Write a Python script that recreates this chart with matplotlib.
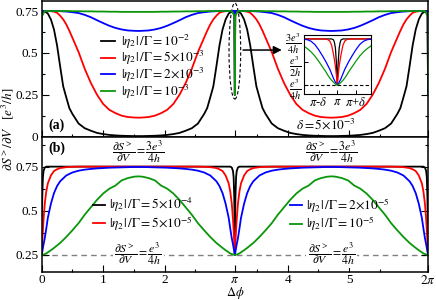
import numpy as np
import matplotlib.pyplot as plt
from matplotlib.patches import Ellipse

plt.rcParams['font.family'] = ['Liberation Serif', 'DejaVu Serif']
plt.rcParams['mathtext.fontset'] = 'stix'

# panel (a): values on [0, pi/2]; curves are symmetric about pi/2 and repeat every pi
a_x = [0, 0.006, 0.05, 0.1, 0.15, 0.2, 0.25, 0.3, 0.35, 0.4, 0.45, 0.5, 0.6, 0.7,
       0.8, 0.9, 1.0, 1.1, 1.2, 1.3, 1.4, 1.5, np.pi / 2]
a_black = [0.25, 0.75, 0.748, 0.735, 0.70, 0.64, 0.545, 0.42, 0.30, 0.234, 0.17, 0.135,
           0.078, 0.05, 0.035, 0.022, 0.015, 0.01, 0.007, 0.005, 0.004, 0.003, 0.003]
a_red = [0.25, 0.75, 0.75, 0.75, 0.749, 0.746, 0.74, 0.722, 0.70, 0.67, 0.632, 0.59,
         0.505, 0.405, 0.32, 0.25, 0.195, 0.16, 0.14, 0.125, 0.117, 0.114, 0.113]
a_blue = [0.25, 0.75, 0.75, 0.75, 0.75, 0.75, 0.75, 0.749, 0.748, 0.747, 0.745, 0.743,
          0.738, 0.727, 0.713, 0.695, 0.678, 0.662, 0.649, 0.64, 0.634, 0.632, 0.631]
a_green = [0.25, 0.72, 0.75, 0.75, 0.75, 0.75, 0.75, 0.75, 0.75, 0.75, 0.75, 0.749,
           0.749, 0.748, 0.748, 0.747, 0.747, 0.746, 0.746, 0.745, 0.745, 0.745, 0.745]
a_labels = [r'$|\eta_2|\,/\mathit{\Gamma} = 10^{-2}$',
            r'$|\eta_2|\,/\mathit{\Gamma} = 5{\times}10^{-3}$',
            r'$|\eta_2|\,/\mathit{\Gamma} = 2{\times}10^{-3}$',
            r'$|\eta_2|\,/\mathit{\Gamma} = 10^{-3}$']

# panel (b)
b_x = [0, 0.005, 0.01, 0.02, 0.03, 0.05, 0.075, 0.1, 0.15, 0.2, 0.25, 0.3, 0.4, 0.5,
       0.6, 0.7, 0.8, 0.9, 1.0, 1.1, 1.2, 1.3, 1.4, 1.5, np.pi / 2]
b_black = [0.25, 0.45, 0.58, 0.69, 0.725, 0.745, 0.75, 0.75, 0.75, 0.75, 0.75, 0.75, 0.75,
           0.75, 0.75, 0.75, 0.75, 0.75, 0.75, 0.75, 0.75, 0.75, 0.75, 0.75, 0.75]
b_red = [0.25, 0.29, 0.33, 0.39, 0.45, 0.54, 0.61, 0.655, 0.70, 0.725, 0.735, 0.742, 0.747,
         0.749, 0.75, 0.75, 0.75, 0.75, 0.75, 0.75, 0.75, 0.75, 0.75, 0.75, 0.75]
b_blue = [0.25, 0.26, 0.27, 0.29, 0.31, 0.345, 0.40, 0.46, 0.54, 0.60, 0.64, 0.667, 0.70,
          0.717, 0.727, 0.733, 0.737, 0.740, 0.742, 0.744, 0.745, 0.746, 0.747, 0.748, 0.748]
b_green = [0.25, 0.25, 0.251, 0.252, 0.253, 0.255, 0.259, 0.265, 0.277, 0.29, 0.304, 0.318,
           0.352, 0.39, 0.43, 0.478, 0.52, 0.562, 0.598, 0.625, 0.643, 0.672, 0.685, 0.693, 0.695]
b_labels = [r'$|\eta_2|\,/\mathit{\Gamma} = 5{\times}10^{-4}$',
            r'$|\eta_2|\,/\mathit{\Gamma} = 5{\times}10^{-5}$',
            r'$|\eta_2|\,/\mathit{\Gamma} = 2{\times}10^{-5}$',
            r'$|\eta_2|\,/\mathit{\Gamma} = 10^{-5}$']

# inset: offsets from pi in units of delta (symmetric)
delta = 5e-3
in_off = [0, 0.05, 0.1, 0.15, 0.2, 0.3, 0.4, 0.5, 0.6, 0.8, 1.0, 1.2, 1.4, 1.6, 1.8]
in_black = [0.25, 0.50, 0.65, 0.71, 0.74, 0.75, 0.75, 0.75, 0.75, 0.75, 0.75, 0.75, 0.75, 0.75, 0.75]
in_red = [0.25, 0.36, 0.45, 0.52, 0.58, 0.68, 0.727, 0.742, 0.747, 0.75, 0.75, 0.75, 0.75, 0.75, 0.75]
in_blue = [0.25, 0.26, 0.28, 0.30, 0.32, 0.37, 0.42, 0.46, 0.50, 0.57, 0.635, 0.69, 0.725, 0.742, 0.748]
in_green = [0.25, 0.253, 0.26, 0.27, 0.28, 0.30, 0.325, 0.355, 0.39, 0.45, 0.51, 0.565, 0.61, 0.645, 0.675]

colors = ['black', '#ff0000', '#0000ff', '#0a960a']
xticks = [0, 1, 2, np.pi, 4, 5, 2 * np.pi]
xticklabels = ['0', '1', '2', r'$\pi$', '4', '5', r'$2\pi$']
xminor = [0.5, 1.5, 2.5, 3.5, 4.5, 5.5]


def full_period(x, y):
    x = np.asarray(x, float)
    y = np.asarray(y, float)
    xs = np.concatenate([x, np.pi - x[::-1]])
    ys = np.concatenate([y, y[::-1]])
    return np.concatenate([xs, xs + np.pi]), np.concatenate([ys, ys])


def style(ax):
    for s in ax.spines.values():
        s.set_linewidth(1.1)
    ax.tick_params(which='both', direction='in', right=True, top=False, labelsize=9.5,
                   width=0.8, pad=2.5)
    ax.tick_params(which='major', length=5)
    ax.tick_params(which='minor', length=2.5)


fig = plt.figure(figsize=(4.36, 3.0), dpi=100)
ax1 = fig.add_axes([0.0956, 0.5447, 0.8861, 0.452])
ax2 = fig.add_axes([0.0956, 0.0923, 0.8861, 0.4524])

fs = 9.5
for y, c, lab in zip([a_black, a_red, a_blue, a_green], colors, a_labels):
    xx, yy = full_period(a_x, y)
    ax1.plot(xx, yy, color=c, lw=1.3, label=lab)
ax1.set_xlim(0, 2 * np.pi)
ax1.set_ylim(0, 0.81)
ax1.set_xticks(xticks)
ax1.set_xticklabels([])
ax1.set_xticks(xminor, minor=True)
ax1.set_yticks([0, 0.25, 0.5, 0.75])
ax1.set_yticklabels(['0', '0.25', '0.5', '0.75'])
ax1.set_yticks([0.125, 0.375, 0.625], minor=True)
style(ax1)
ax1.legend(loc='upper left', bbox_to_anchor=(0.153, 0.765), frameon=False, fontsize=fs,
           handlelength=1.1, handletextpad=0.4, labelspacing=-0.12, borderpad=0, borderaxespad=0)
ax1.text(0.24, 0.069, '(a)', fontsize=10, fontweight='bold', ha='center', va='center')
ax1.text(4.63, 0.075, r'$\delta = 5{\times}10^{-3}$', fontsize=fs, ha='center', va='center')
ax1.add_patch(Ellipse((np.pi, 0.511), 0.19, 0.574, fill=False, ls=(0, (3, 2)), lw=0.8, color='black'))
ax1.annotate('', xy=(3.95, 0.517), xytext=(3.23, 0.517),
             arrowprops=dict(arrowstyle='-|>', color='black', lw=1.1, mutation_scale=12))

for y, c, lab in zip([b_black, b_red, b_blue, b_green], colors, b_labels):
    xx, yy = full_period(b_x, y)
    ax2.plot(xx, yy, color=c, lw=1.3, label=lab)
ax2.axhline(0.25, color='gray', ls=(0, (4, 3)), lw=1.0, zorder=1)
ax2.set_xlim(0, 2 * np.pi)
ax2.set_ylim(0.152, 0.92)
ax2.set_xticks(xticks)
ax2.set_xticklabels(xticklabels)
ax2.set_xticks(xminor, minor=True)
ax2.set_yticks([0.25, 0.5, 0.75])
ax2.set_yticklabels(['0.25', '0.5', '0.75'])
ax2.set_yticks([0.375, 0.625, 0.875], minor=True)
style(ax2)
ax2.tick_params(axis='x', pad=1.5)
ax2.set_xlabel(r'$\Delta\phi$', fontsize=9)
ax2.xaxis.set_label_coords(0.5, -0.09)
h, l = ax2.get_legend_handles_labels()
leg1 = ax2.legend(h[:2], l[:2], loc='upper left', bbox_to_anchor=(0.133, 0.56), frameon=False,
                  fontsize=fs, handlelength=0.9, handletextpad=0.3, labelspacing=-0.05,
                  borderpad=0, borderaxespad=0)
ax2.add_artist(leg1)
ax2.legend(h[2:], l[2:], loc='upper left', bbox_to_anchor=(0.642, 0.56), frameon=False,
           fontsize=fs, handlelength=0.9, handletextpad=0.3, labelspacing=-0.05,
           borderpad=0, borderaxespad=0)
ax2.text(0.24, 0.856, '(b)', fontsize=10, fontweight='bold', ha='center', va='center')
for xc in [np.pi / 2, 3 * np.pi / 2]:
    ax2.text(xc, 0.833, r'$\dfrac{\partial S^{>}}{\partial V} = \dfrac{3e^3}{4h}$',
             fontsize=8.5, ha='center', va='center')
    ax2.text(xc, 0.261, r'$\dfrac{\partial S^{>}}{\partial V} = \dfrac{e^3}{4h}$',
             fontsize=8.5, ha='center', va='center', zorder=3,
             bbox=dict(facecolor='white', edgecolor='none', pad=1))

fig.text(0.017, 0.57, r'$\partial S^{>}/\partial V\ \ \ [e^3/h]$', rotation=90,
         fontsize=fs, ha='center', va='center')

# inset
ax3 = fig.add_axes([0.6962, 0.6867, 0.1548, 0.1967])
off = np.asarray(in_off)
for y, c in zip([in_black, in_red, in_blue, in_green], colors):
    y = np.asarray(y)
    ax3.plot(np.pi + np.concatenate([-off[::-1], off]) * delta,
             np.concatenate([y[::-1], y]), color=c, lw=0.9)
ax3.axhline(0.25, color='black', ls=(0, (3, 2)), lw=0.8, zorder=1)
ax3.set_xlim(np.pi - 1.8 * delta, np.pi + 1.8 * delta)
ax3.set_ylim(0.152, 0.793)
ax3.set_xticks([np.pi - delta, np.pi, np.pi + delta])
ax3.set_xticklabels([r'$\pi$-$\delta$', r'$\pi$', r'$\pi$+$\delta$'])
ax3.set_yticks([0.25, 0.5, 0.75])
ax3.set_yticklabels([r'$\dfrac{e^3}{4h}$', r'$\dfrac{e^3}{2h}$', r'$\dfrac{3e^3}{4h}$'], fontsize=7.5)
ax3.tick_params(axis='x', labelsize=9)
for s in ax3.spines.values():
    s.set_linewidth(0.8)
ax3.tick_params(direction='in', length=3, width=0.7, pad=1.5)

fig.savefig('out.png', dpi=100)
